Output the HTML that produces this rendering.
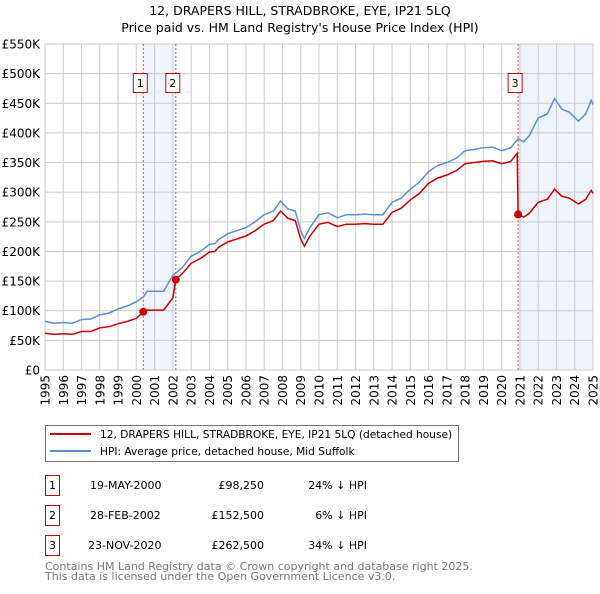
<!DOCTYPE html>
<html><head><meta charset="utf-8"><style>
body{margin:0;background:#fff;font-family:"DejaVu Sans","Liberation Sans",sans-serif;}
svg text{font-family:"DejaVu Sans","Liberation Sans",sans-serif;}
</style></head><body>
<svg id="chart" width="600" height="590" xmlns="http://www.w3.org/2000/svg">
<text x="300" y="15" text-anchor="middle" font-size="12.5">12, DRAPERS HILL, STRADBROKE, EYE, IP21 5LQ</text>
<text x="300" y="32" text-anchor="middle" font-size="12.5">Price paid vs. HM Land Registry's House Price Index (HPI)</text>
<g id="plot"></g>
<g>
<rect x="45.5" y="425.5" width="413" height="36" fill="#fff" stroke="#777"/>
<line x1="50" y1="434" x2="91" y2="434" stroke="#cc0000" stroke-width="2"/>
<text x="100" y="438" font-size="10.6">12, DRAPERS HILL, STRADBROKE, EYE, IP21 5LQ (detached house)</text>
<line x1="50" y1="451" x2="91" y2="451" stroke="#5b8fd6" stroke-width="2"/>
<text x="100" y="455" font-size="10.6">HPI: Average price, detached house, Mid Suffolk</text>
</g>
<g font-size="11">
<rect x="45.5" y="475.5" width="14" height="20" fill="none" stroke="#cc0000"/><text x="52.5" y="489" text-anchor="middle">1</text>
<text x="90" y="489">19-MAY-2000</text><text x="264" y="489" text-anchor="end">£98,250</text><text x="367" y="489" text-anchor="end">24% ↓ HPI</text>
<rect x="45.5" y="505.5" width="14" height="20" fill="none" stroke="#cc0000"/><text x="52.5" y="519" text-anchor="middle">2</text>
<text x="90" y="519">28-FEB-2002</text><text x="264" y="519" text-anchor="end">£152,500</text><text x="367" y="519" text-anchor="end">6% ↓ HPI</text>
<rect x="45.5" y="535.5" width="14" height="20" fill="none" stroke="#cc0000"/><text x="52.5" y="549" text-anchor="middle">3</text>
<text x="88" y="549">23-NOV-2020</text><text x="264" y="549" text-anchor="end">£262,500</text><text x="367" y="549" text-anchor="end">34% ↓ HPI</text>
</g>
<g font-size="11" fill="#777">
<text x="45" y="570">Contains HM Land Registry data © Crown copyright and database right 2025.</text>
<text x="45" y="580">This data is licensed under the Open Government Licence v3.0.</text>
</g>
</svg>
<script>
const hpiDates=[1995,1995.5,1996,1996.5,1997,1997.5,1998,1998.5,1999,1999.5,2000,2000.4,2000.6,2001,2001.5,2002,2002.5,2003,2003.5,2004,2004.3,2004.5,2005,2005.5,2006,2006.5,2007,2007.5,2007.9,2008.3,2008.7,2009,2009.2,2009.5,2010,2010.5,2011,2011.5,2012,2012.5,2013,2013.5,2014,2014.5,2015,2015.5,2016,2016.5,2017,2017.5,2018,2018.5,2019,2019.5,2020,2020.5,2020.9,2021.2,2021.5,2022,2022.5,2022.9,2023.3,2023.7,2024.2,2024.6,2024.9,2025];
const hpiValues=[82,79,80,79,85,86,93,96,103,108,115,124,133,133,133,160,172,192,200,212,213,220,230,235,240,250,262,268,285,272,268,235,222,240,262,265,257,262,262,263,262,262,283,290,305,317,335,345,350,357,370,372,375,376,370,375,390,385,395,425,432,458,440,435,420,432,455,448];
const paidDates=[1995,1995.5,1996,1996.5,1997,1997.5,1998,1998.5,1999,1999.5,2000,2000.38,2000.6,2001,2001.5,2002,2002.16,2002.5,2003,2003.5,2004,2004.3,2004.5,2005,2005.5,2006,2006.5,2007,2007.5,2007.9,2008.3,2008.7,2009,2009.2,2009.5,2010,2010.5,2011,2011.5,2012,2012.5,2013,2013.5,2014,2014.5,2015,2015.5,2016,2016.5,2017,2017.5,2018,2018.5,2019,2019.5,2020,2020.5,2020.85,2020.9,2021.2,2021.5,2022,2022.5,2022.9,2023.3,2023.7,2024.2,2024.6,2024.9,2025];
const paidValues=[62,60,61,60,65,65,71,73,78,82,87,98.25,101,101,101,122,152.5,162,180,188,199,200,207,216,221,226,235,246,252,268,256,252,221,209,226,246,249,242,246,246,247,246,246,266,273,287,298,315,324,329,336,348,350,352,353,348,352,366,262.5,258,264,283,288,305,293,290,280,288,303,298];
const saleDates=[2000.38,2002.16,2020.9];
const saleValues=[98.25,152.5,262.5];
const saleLabels=["1","2","3"];
const yTicks=[0,50,100,150,200,250,300,350,400,450,500,550];
const yTickLabels=["£0","£50K","£100K","£150K","£200K","£250K","£300K","£350K","£400K","£450K","£500K","£550K"];
const years=[1995,1996,1997,1998,1999,2000,2001,2002,2003,2004,2005,2006,2007,2008,2009,2010,2011,2012,2013,2014,2015,2016,2017,2018,2019,2020,2021,2022,2023,2024,2025];

const L=45,R=593,T=44,B=370;
const xs=d=>L+(d-1995)/30*(R-L);
const ys=v=>B-v/550*(B-T);
const NS="http://www.w3.org/2000/svg";
const g=document.getElementById('plot');
function mk(tag,attrs){const e=document.createElementNS(NS,tag);for(const k in attrs)e.setAttribute(k,attrs[k]);g.appendChild(e);return e;}
let s1=mk('rect',{x:xs(saleDates[0]),y:T,width:xs(saleDates[1])-xs(saleDates[0]),height:B-T,fill:'#eef3fc'});


let s2=mk('rect',{x:xs(saleDates[2]),y:T,width:R-xs(saleDates[2]),height:B-T,fill:'#eef3fc'});


years.forEach(y=>{const l=mk('line',{x1:xs(y),x2:xs(y),y1:T,y2:B,stroke:'#ccc','stroke-width':1});


const t=mk('text',{x:0,y:0,'font-size':12,'text-anchor':'end',transform:`translate(${xs(y)+4.5},375) rotate(-90)`});t.textContent=y;

});
yTicks.forEach((v,i)=>{const l=mk('line',{x1:L,x2:R,y1:ys(v),y2:ys(v),stroke:'#ccc','stroke-width':1});


const t=mk('text',{x:40,y:ys(v)+4.5,'font-size':12,'text-anchor':'end'});t.textContent=yTickLabels[i];

});
saleDates.forEach((d,i)=>{const l=mk('line',{x1:xs(d),x2:xs(d),y1:T,y2:B,stroke:'#e05050','stroke-width':1,'stroke-dasharray':'2,2'});

});
const path=(ds,vs)=>ds.map((d,i)=>(i?'L':'M')+xs(d).toFixed(1)+','+ys(vs[i]).toFixed(1)).join('');
const hp=mk('path',{d:path(hpiDates,hpiValues),fill:'none',stroke:'#5b8fd6','stroke-width':1.5});


const pp=mk('path',{d:path(paidDates,paidValues),fill:'none',stroke:'#cc0000','stroke-width':1.5});


saleDates.forEach((d,i)=>{const c=mk('circle',{cx:xs(d),cy:ys(saleValues[i]),r:4,fill:'#cc0000'});


const r=mk('rect',{x:xs(d)-10,y:73.5,width:14,height:19,fill:'#fff',stroke:'#cc0000'});


const t=mk('text',{x:xs(d)-3,y:87,'font-size':11,'text-anchor':'middle'});t.textContent=saleLabels[i];

});
</script>
</body></html>
